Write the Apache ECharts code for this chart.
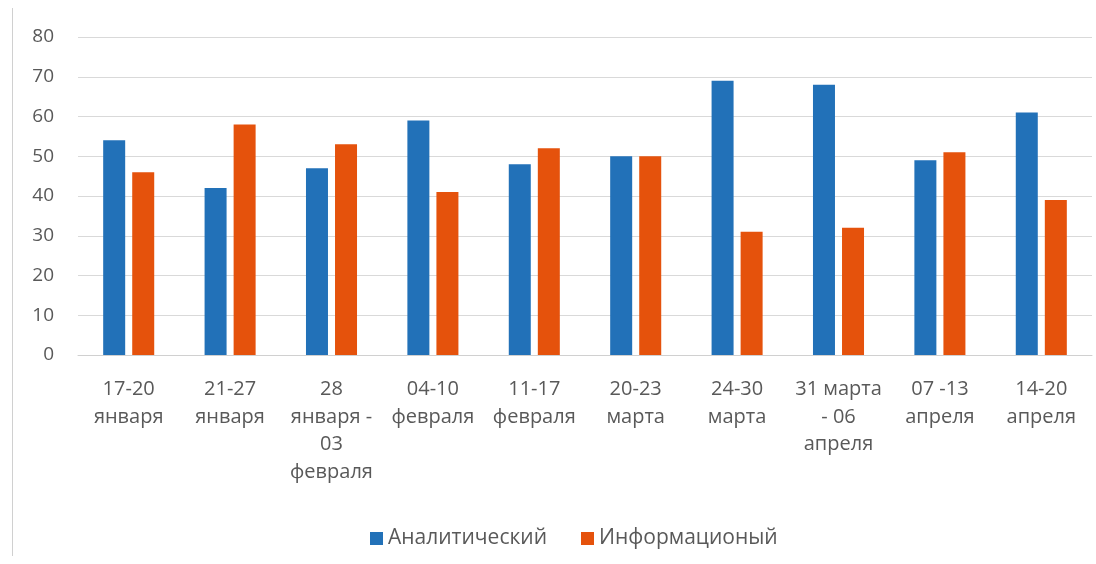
<!DOCTYPE html>
<html><head><meta charset="utf-8">
<script src="https://cdn.jsdelivr.net/npm/echarts@6/dist/echarts.min.js"></script>
<style>html,body{margin:0;padding:0;background:#fff}#c{width:1096px;height:564px}</style>
</head><body><div id="c"></div>
<script>
const categories = ["17-20\nянваря","21-27\nянваря","28\nянваря -\n03\nфевраля","04-10\nфевраля","11-17\nфевраля","20-23\nмарта","24-30\nмарта","31 марта\n- 06\nапреля","07 -13\nапреля","14-20\nапреля"];
const analytic = [54,42,47,59,48,50,69,68,49,61];
const informational = [46,58,53,41,52,50,31,32,51,39];
const seriesNames = ["Аналитический","Информационый"];
const chart = echarts.init(document.getElementById('c'));
const font = "Open Sans";
chart.setOption({
  animation:false,
  textStyle:{fontFamily:font},
  graphic:[{type:'line',shape:{x1:12.5,y1:8,x2:12.5,y2:556},style:{stroke:'#d0d0d0',lineWidth:1}}],
  legend:{top:523,left:365,itemWidth:13,itemHeight:13,itemGap:34,icon:'rect',
    textStyle:{color:'#595959',fontSize:21,fontFamily:font},data:seriesNames},
  grid:{left:78,right:4,top:37,bottom:209},
  xAxis:{type:'category',data:categories,
    axisLine:{lineStyle:{color:'#d0d0d0'}},axisTick:{show:false},
    axisLabel:{color:'#595959',fontSize:20,lineHeight:27.5,margin:21,interval:0,fontFamily:font}},
  yAxis:{type:'value',min:0,max:80,interval:10,
    axisLabel:{color:'#595959',fontSize:19,margin:24,fontFamily:font},
    splitLine:{lineStyle:{color:'#d9d9d9'}},axisLine:{show:false}},
  series:[
    {name:seriesNames[0],type:'bar',data:analytic,barWidth:22,barGap:'32%',itemStyle:{color:'#2271b8'}},
    {name:seriesNames[1],type:'bar',data:informational,barWidth:22,itemStyle:{color:'#e5520c'}}
  ]
});
</script></body></html>
